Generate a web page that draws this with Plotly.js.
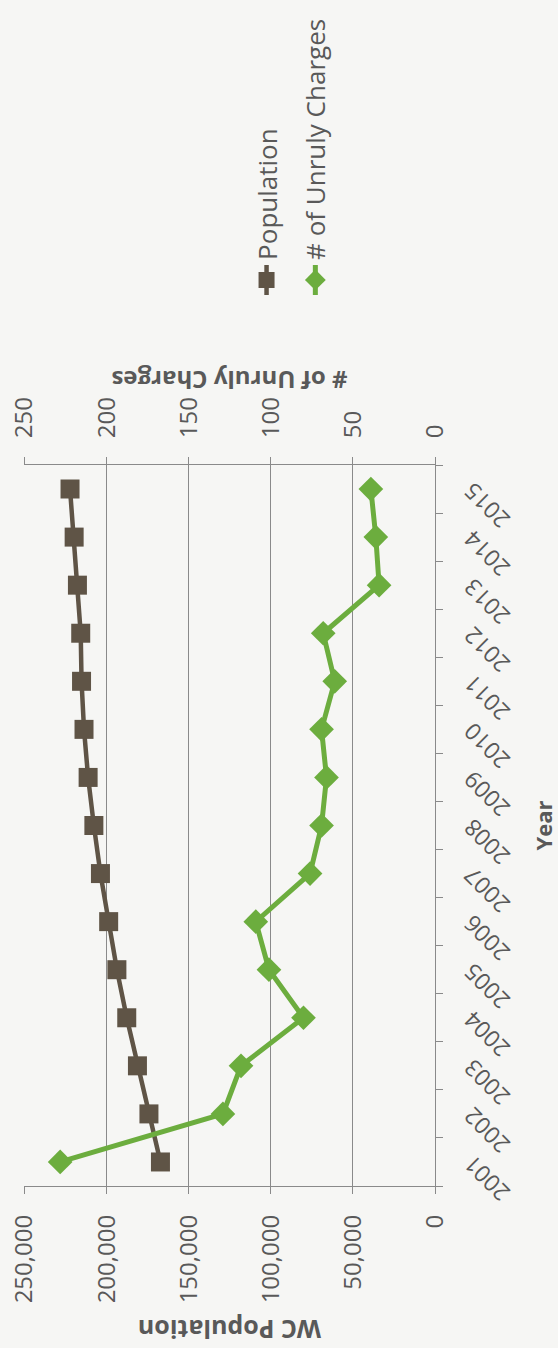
<!DOCTYPE html>
<html>
<head>
<meta charset="utf-8">
<script src="https://cdn.plot.ly/plotly-3.0.1.min.js"></script>
<style>
  html, body { margin: 0; padding: 0; width: 558px; height: 1348px; overflow: hidden; background: #f6f6f4; }
  #chart { position: absolute; left: 0; top: 0; width: 1348px; height: 558px;
           transform-origin: 0 0; transform: translateY(1348px) rotate(-90deg); }
</style>
</head>
<body>
<div id="chart"></div>
<script>
const years = ['2001','2002','2003','2004','2005','2006','2007','2008','2009','2010','2011','2012','2013','2014','2015'];
const population = [167000, 174000, 181000, 187500, 193500, 198500, 203500, 207500, 211000, 213500, 215000, 215500, 217500, 219500, 222000];
const unrulyCharges = [228, 129, 118, 80, 101, 109, 76, 69, 66, 69, 61, 68, 34, 36, 39];
const popTicks = [0, 50000, 100000, 150000, 200000, 250000];
const chargeTicks = [0, 50, 100, 150, 200, 250];

const FONT = 'Open Sans, Lato, sans-serif';
const TXT = '#595959';
const GRID = '#8a8a8a';
const POP_COLOR = '#5f5446';
const GREEN = '#6cad3e';

const traces = [
  {
    x: years, y: population, name: 'Population', type: 'scatter', mode: 'lines+markers',
    legendgroup: 'a',
    line: {color: POP_COLOR, width: 4.5},
    marker: {symbol: 'square', size: 19, color: POP_COLOR},
    yaxis: 'y'
  },
  {
    x: years, y: unrulyCharges, name: '# of Unruly Charges', type: 'scatter', mode: 'lines+markers',
    legendgroup: 'b',
    line: {color: GREEN, width: 5},
    marker: {symbol: 'diamond', size: 19, color: GREEN},
    yaxis: 'y2'
  }
];

const layout = {
  width: 1348, height: 558,
  margin: {l: 162, r: 465, t: 24, b: 123},
  paper_bgcolor: '#f6f6f4', plot_bgcolor: '#f6f6f4',
  font: {family: FONT, color: TXT, size: 24},
  showlegend: true,
  legend: {
    x: 1.229, xanchor: 'left', y: 0.35, yanchor: 'middle',
    traceorder: 'grouped', tracegroupgap: 12,
    font: {family: FONT, size: 26, color: TXT},
    bgcolor: 'rgba(0,0,0,0)'
  },
  xaxis: {
    type: 'category', categoryorder: 'array', categoryarray: years,
    range: [-0.5, 14.5],
    tickson: 'boundaries', ticks: 'outside', ticklen: 7, tickcolor: GRID,
    showline: true, linecolor: GRID, linewidth: 1, showgrid: false,
    tickangle: -45, tickfont: {family: FONT, size: 23, color: TXT},
    ticklabelstandoff: 14,
    title: {text: 'Year', font: {family: FONT, size: 22, color: TXT, weight: 'bold'}, standoff: 30},
    automargin: false, zeroline: false, fixedrange: true
  },
  yaxis: {
    range: [0, 250000], tickvals: popTicks, tickformat: ',d',
    ticks: 'outside', ticklen: 7, tickcolor: GRID,
    showline: true, linecolor: GRID, linewidth: 1,
    showgrid: true, gridcolor: GRID, gridwidth: 1, zeroline: false,
    tickfont: {family: FONT, size: 24, color: TXT},
    ticklabelstandoff: 16,
    title: {text: 'WC Population', font: {family: FONT, size: 25, color: TXT, weight: 'bold'}, standoff: 8},
    automargin: false, fixedrange: true
  },
  yaxis2: {
    range: [0, 250], tickvals: chargeTicks, overlaying: 'y', side: 'right',
    ticks: 'outside', ticklen: 7, tickcolor: GRID,
    showline: true, linecolor: GRID, linewidth: 1,
    showgrid: false, zeroline: false,
    tickfont: {family: FONT, size: 24, color: TXT},
    ticklabelstandoff: 14,
    title: {text: '# of Unruly Charges', font: {family: FONT, size: 24, color: TXT, weight: 'bold'}, standoff: 6},
    automargin: false, fixedrange: true
  }
};

Plotly.newPlot('chart', traces, layout, {displayModeBar: false, staticPlot: true});
</script>
</body>
</html>
